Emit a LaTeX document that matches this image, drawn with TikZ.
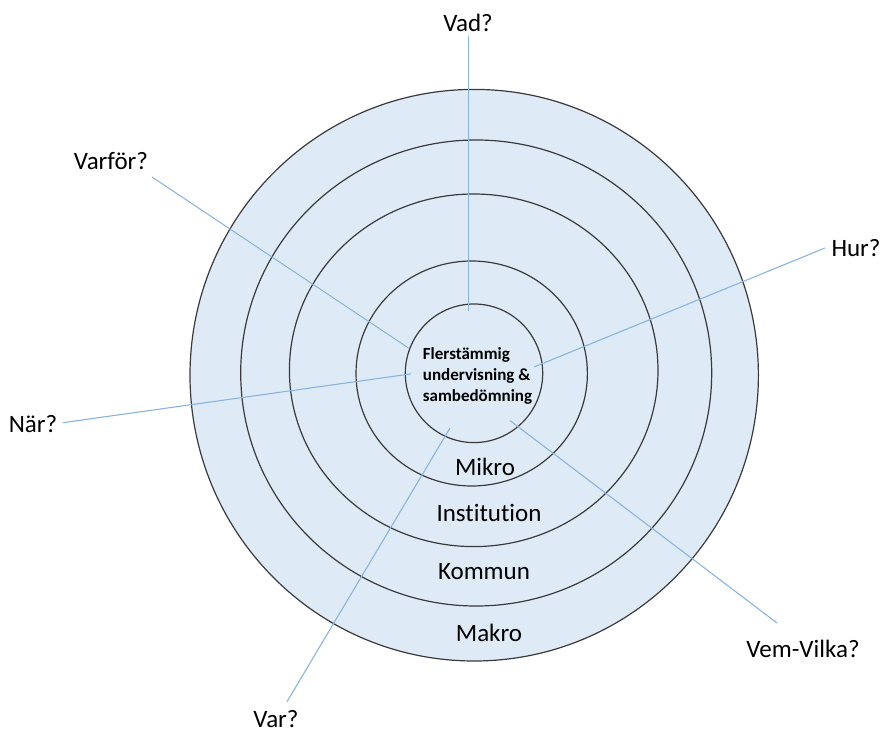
\documentclass[tikz,border=0pt]{standalone}
\usepackage{fontspec}
\setmainfont{Carlito}[Ligatures={NoCommon},RawFeature={-liga;-clig;-dlig}]
\definecolor{ringfill}{HTML}{DEEBF7}
\definecolor{ringline}{HTML}{3A3A3A}
\definecolor{spoke}{HTML}{8AB4E0}
\begin{document}
\begin{tikzpicture}[x=1pt,y=-1pt,
  ring/.style={draw=ringline,line width=1.2pt},
  spokeline/.style={draw=spoke,line width=1.1pt},
  qlabel/.style={inner sep=0pt,font=\fontsize{25}{30}\selectfont},
  level/.style={inner sep=0pt,font=\fontsize{25}{30}\selectfont}]
\useasboundingbox (0,0) rectangle (884,733);
% rings
\filldraw[ring,fill=ringfill] (474.2,375.2) ellipse [x radius=284.2,y radius=285.8];
\draw[ring] (476.2,373.0) ellipse [x radius=235.5,y radius=233.0];
\draw[ring] (473.7,370.3) ellipse [x radius=184.3,y radius=176.3];
\draw[ring] (471.7,373.5) ellipse [x radius=115.7,y radius=112.5];
\draw[ring] (474.0,373.3) ellipse [x radius=68.7,y radius=69.3];
% spoke end points
\coordinate (vadA) at (468.3,36);
\coordinate (vadB) at (468.3,311);
\coordinate (varforA) at (152,177);
\coordinate (varforB) at (408.5,348);
\coordinate (hurA) at (825,248);
\coordinate (hurB) at (534,367);
\coordinate (narA) at (62.7,422.7);
\coordinate (narB) at (410.8,373.9);
\coordinate (varA) at (287,701.7);
\coordinate (varB) at (450,428);
\coordinate (vemA) at (777,623);
\coordinate (vemB) at (510,420.6);
\draw[spokeline] (vadA) -- (vadB);
\draw[spokeline] (varforA) -- (varforB);
\draw[spokeline] (hurA) -- (hurB);
\draw[spokeline] (narA) -- (narB);
\draw[spokeline] (varA) -- (varB);
\draw[spokeline] (vemA) -- (vemB);
% question labels
\node[qlabel] (vad) at (468,23) {Vad?};
\node[qlabel] (varfor) at (111,161) {Varför?};
\node[qlabel] (hur) at (856,248) {Hur?};
\node[qlabel] (nar) at (33,424) {När?};
\node[qlabel] (vem) at (803,649) {Vem-Vilka?};
\node[qlabel] (var) at (276,719) {Var?};
% level labels
\node[level] (mikro) at (485,467) {Mikro};
\node[level] (inst) at (489,513) {Institution};
\node[level] (kommun) at (484,572) {Kommun};
\node[level] (makro) at (489,633) {Makro};
% centre
\node[inner sep=0pt,anchor=north west,align=left,
      font=\fontsize{17}{20.8}\selectfont\bfseries] (centre) at (422.7,347.5)
  {Flerstämmig\\undervisning \&\\sambedömning};
\end{tikzpicture}
\end{document}
